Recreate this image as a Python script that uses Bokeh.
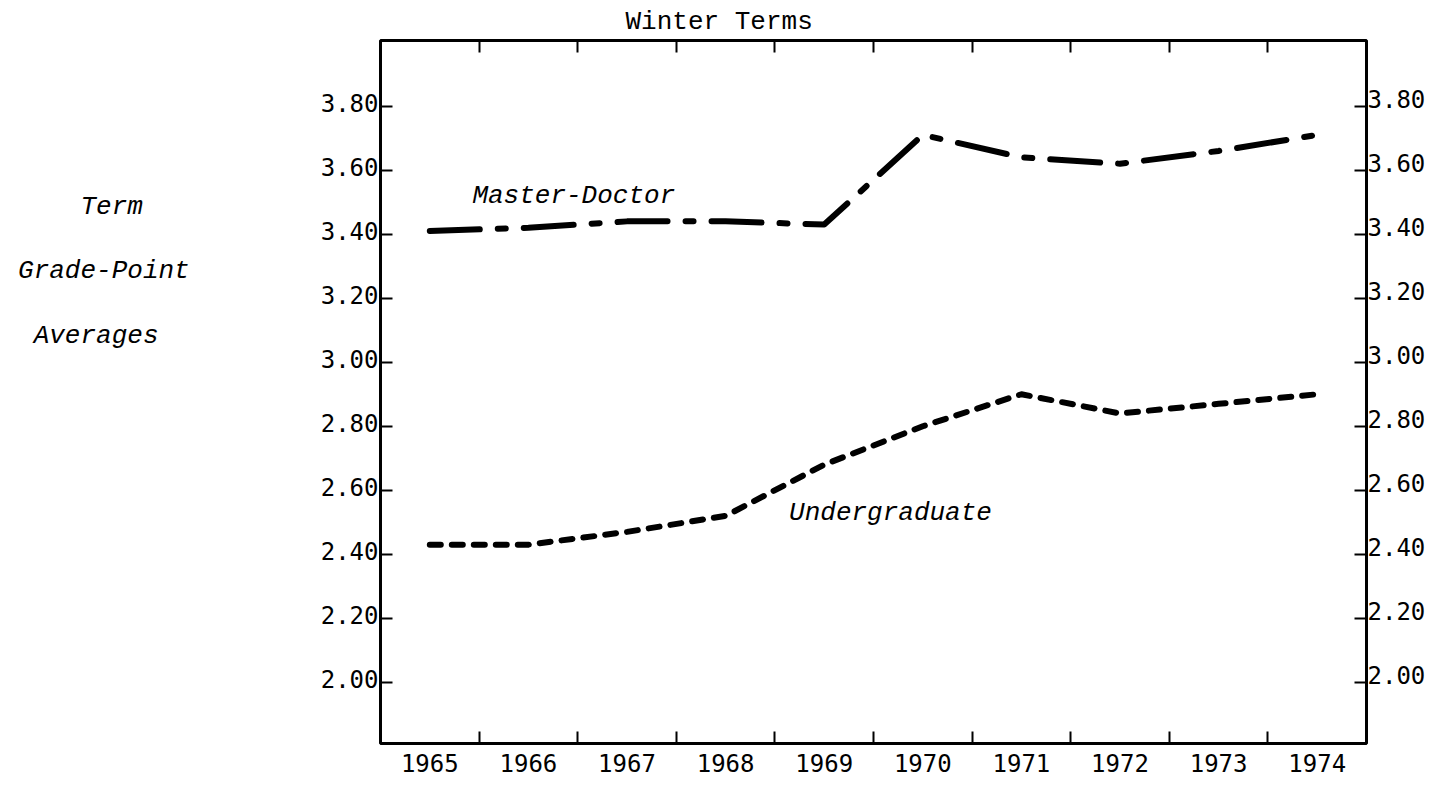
from bokeh.plotting import figure
from bokeh.models import (Range1d, LinearAxis, FixedTicker, CustomJSTickFormatter,
                          NumeralTickFormatter, Label, Title)
from bokeh.embed import file_html
from bokeh.resources import INLINE

# ---------------- data ----------------
YEARS = [1965, 1966, 1967, 1968, 1969, 1970, 1971, 1972, 1973, 1974]
MASTER_DOCTOR = [3.41, 3.42, 3.44, 3.44, 3.43, 3.71, 3.64, 3.62, 3.66, 3.71]
UNDERGRADUATE = [2.43, 2.43, 2.47, 2.52, 2.68, 2.80, 2.90, 2.84, 2.87, 2.90]
Y_TICKS = [2.0, 2.2, 2.4, 2.6, 2.8, 3.0, 3.2, 3.4, 3.6, 3.8]
TITLE = "Winter Terms"
Y_TITLE_LINES = ["Term", "Grade-Point", "Averages"]
SERIES_NAMES = ["Master-Doctor", "Undergraduate"]

# ---------------- layout ----------------
W, H = 1428, 777
BL, BR, BT, BB = 380, 61, 39, 34
FW, FH = W - BL - BR, H - BT - BB
X0, X1 = YEARS[0] - 0.5, YEARS[-1] + 0.5
Y0, Y1 = 1.809, 4.005
PX_PER_UNIT = FH / (Y1 - Y0)

MONO = "DejaVu Sans Mono"
TYPE = "Liberation Mono"
NB = "\u00a0"


def dx(px_page):
    return X0 + (px_page - 8 - BL) / FW * (X1 - X0)


def dy(py_page):
    return Y0 + (8 + BT + FH - py_page) / FH * (Y1 - Y0)


p = figure(width=W, height=H, x_range=Range1d(X0, X1), y_range=Range1d(Y0, Y1),
           output_backend="svg", toolbar_location=None,
           x_axis_location=None, y_axis_location=None,
           min_border_left=BL, min_border_right=BR,
           min_border_top=BT, min_border_bottom=BB)
p.xgrid.visible = False
p.ygrid.visible = False
p.outline_line_color = "black"
p.outline_line_width = 3
p.background_fill_color = "white"
p.border_fill_color = "white"

p.title = Title(text=TITLE, align="left", offset=245, standoff=8,
                text_font=TYPE, text_font_size="26px", text_font_style="normal",
                text_color="black", vertical_align="bottom")

d_left = 3 / PX_PER_UNIT
d_right = 7 / PX_PER_UNIT
p.extra_y_ranges = {
    "lab_left": Range1d(Y0 - d_left, Y1 - d_left),
    "lab_right": Range1d(Y0 - d_right, Y1 - d_right),
}

bounds = [y + 0.5 for y in YEARS[:-1]]

# bottom axis: year labels, tick marks between years
xb = LinearAxis(ticker=FixedTicker(ticks=YEARS, minor_ticks=bounds),
                major_tick_line_color=None,
                minor_tick_in=12, minor_tick_out=0,
                minor_tick_line_width=2, minor_tick_line_color="black",
                axis_line_color=None,
                major_label_text_font=MONO, major_label_text_font_size="24px",
                major_label_text_color="black", major_label_standoff=4)
p.add_layout(xb, "below")

# top axis: tick marks only
xt = LinearAxis(ticker=FixedTicker(ticks=[], minor_ticks=bounds),
                formatter=CustomJSTickFormatter(code="return ''"),
                major_tick_line_color=None,
                minor_tick_in=12, minor_tick_out=0,
                minor_tick_line_width=2, minor_tick_line_color="black",
                axis_line_color=None, major_label_standoff=0,
                major_label_text_font_size="1px")
p.add_layout(xt, "above")

# multi-line side caption (monospace, padded so the lines sit as typed)
caption_lines = [NB] * 24
caption_lines[0] = NB * 4 + Y_TITLE_LINES[0] + NB * 3
caption_lines[4] = Y_TITLE_LINES[1]
caption_lines[8] = NB * 1 + Y_TITLE_LINES[2] + NB * 2
CAPTION = "\n".join(caption_lines)

for side, rng, standoff in (("left", "lab_left", -4), ("right", "lab_right", -5)):
    tick_ax = LinearAxis(ticker=FixedTicker(ticks=Y_TICKS),
                         formatter=CustomJSTickFormatter(code="return ''"),
                         major_tick_in=12, major_tick_out=0,
                         major_tick_line_width=2, major_tick_line_color="black",
                         minor_tick_line_color=None, axis_line_color=None,
                         major_label_standoff=0, major_label_text_font_size="1px")
    p.add_layout(tick_ax, side)
    lab_ax = LinearAxis(y_range_name=rng, ticker=FixedTicker(ticks=Y_TICKS),
                        formatter=NumeralTickFormatter(format="0.00"),
                        major_tick_line_color=None, minor_tick_line_color=None,
                        axis_line_color=None,
                        major_label_text_font=MONO, major_label_text_font_size="24px",
                        major_label_text_color="black",
                        major_label_standoff=standoff)
    if side == "left":
        lab_ax.axis_label = CAPTION
        lab_ax.axis_label_orientation = "horizontal"
        lab_ax.axis_label_text_font = TYPE
        lab_ax.axis_label_text_font_size = "26px"
        lab_ax.axis_label_text_font_style = "italic"
        lab_ax.axis_label_text_color = "black"
        lab_ax.axis_label_text_line_height = 0.536
        lab_ax.axis_label_standoff = 128
    p.add_layout(lab_ax, side)

# series
p.line(YEARS, MASTER_DOCTOR, line_color="black", line_width=6,
       line_dash="50 18 8 18", line_cap="round", line_join="round")
p.line(YEARS, UNDERGRADUATE, line_color="black", line_width=6,
       line_dash="11 11", line_cap="round", line_join="round")

# in-plot series names
def add_label(text, x_page, y_page):
    p.add_layout(Label(x=dx(x_page), y=dy(y_page), text=text,
                       text_font=TYPE, text_font_size="26px",
                       text_font_style="italic",
                       text_color="black", text_align="left",
                       text_baseline="alphabetic"))

add_label(SERIES_NAMES[0], 480, 203)
add_label(SERIES_NAMES[1], 797, 520)

open("out.html", "w").write(file_html(p, INLINE))
